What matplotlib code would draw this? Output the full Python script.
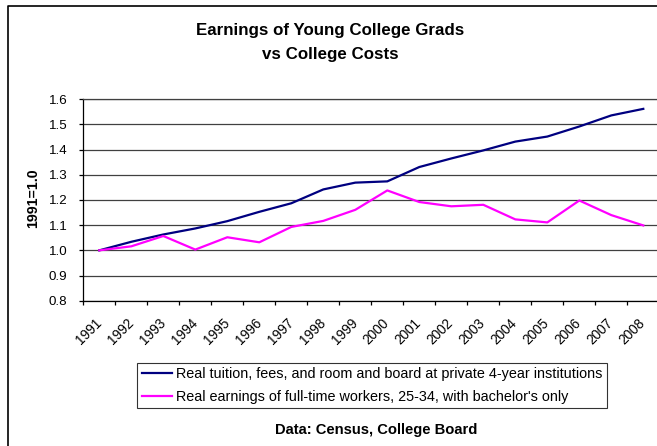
import matplotlib
matplotlib.use("Agg")
import matplotlib.pyplot as plt
from matplotlib.lines import Line2D
from matplotlib.transforms import ScaledTranslation

plt.rcParams['font.family'] = ['Liberation Sans', 'DejaVu Sans']

# data (index, 1991 = 1.0)
years = [str(y) for y in range(1991, 2009)]
tuition = [1.000, 1.034, 1.063, 1.087, 1.116, 1.153, 1.187, 1.242, 1.269,
           1.274, 1.331, 1.365, 1.397, 1.432, 1.452, 1.492, 1.536, 1.562]
earnings = [1.000, 1.016, 1.057, 1.003, 1.052, 1.032, 1.093, 1.117, 1.161,
            1.238, 1.192, 1.175, 1.181, 1.123, 1.111, 1.198, 1.140, 1.099]
y_ticks = [0.8, 0.9, 1.0, 1.1, 1.2, 1.3, 1.4, 1.5, 1.6]

W, H = 657, 446
fig = plt.figure(figsize=(W / 100, H / 100), dpi=100)

# outer chart frame (right and bottom edges are cropped in the original)
fig.add_artist(Line2D([8 / W, 8 / W, 1], [0, 1 - 6 / H, 1 - 6 / H],
                      transform=fig.transFigure, color='black', lw=1.2))

ax = fig.add_axes([83.3 / W, (H - 300.7) / H, 576 / W, 201.4 / H])

x = list(range(len(years)))
ax.plot(x, tuition, color='#000080', lw=1.6,
        label='Real tuition, fees, and room and board at private 4-year institutions')
ax.plot(x, earnings, color='#FF00FF', lw=1.6,
        label="Real earnings of full-time workers, 25-34, with bachelor's only")

ax.set_xlim(-0.5, len(years) - 0.5)
ax.set_ylim(0.8, 1.6)
ax.set_yticks(y_ticks)
ax.set_yticklabels([f'{v:.1f}' for v in y_ticks], fontsize=9.6)
ax.yaxis.grid(True, color='#404040', lw=0.9)
ax.set_axisbelow(True)

# ticks between categories, labels at category centers
ax.set_xticks([i - 0.5 for i in range(len(years) + 1)])
ax.set_xticklabels([])
ax.set_xticks(x, years, minor=True)
ax.tick_params(axis='x', which='major', direction='out', length=3, width=0.9)
ax.tick_params(axis='x', which='minor', length=0, pad=11, labelsize=9.8)
ax.tick_params(axis='y', direction='out', length=3, width=0.9, pad=8.5)
shift = ScaledTranslation(-5 / 100, 0, fig.dpi_scale_trans)
for lab in ax.get_xticklabels(minor=True):
    lab.set_rotation(45)
    lab.set_ha('right')
    lab.set_rotation_mode('anchor')
    lab.set_transform(lab.get_transform() + shift)

ax.spines['left'].set_color('black')
ax.spines['bottom'].set_color('black')
ax.spines['top'].set_color('#404040')
ax.spines['right'].set_visible(False)
for s in ax.spines.values():
    s.set_linewidth(0.9)

fig.text(32.7 / W, 1 - 198 / H, '1991=1.0', rotation=90, fontsize=10.2,
         fontweight='bold', ha='center', va='center')

fig.text(330 / W, 1 - 31 / H, 'Earnings of Young College Grads', fontsize=12.2,
         fontweight='bold', ha='center', va='center')
fig.text(330 / W, 1 - 54 / H, 'vs College Costs', fontsize=12.2,
         fontweight='bold', ha='center', va='center')

leg = ax.legend(loc='upper left', bbox_to_anchor=(137.3 / W, 1 - 362.7 / H),
                bbox_transform=fig.transFigure, fontsize=10.4, frameon=True,
                fancybox=False, borderaxespad=0, borderpad=0.3,
                handlelength=2.08, handletextpad=0.3, labelspacing=0.6)
leg.get_frame().set_edgecolor('black')
leg.get_frame().set_linewidth(0.8)

fig.text(376.5 / W, 1 - 430 / H, 'Data: Census, College Board', fontsize=10.6,
         fontweight='bold', ha='center', va='center')

fig.savefig('out.png', dpi=100)
